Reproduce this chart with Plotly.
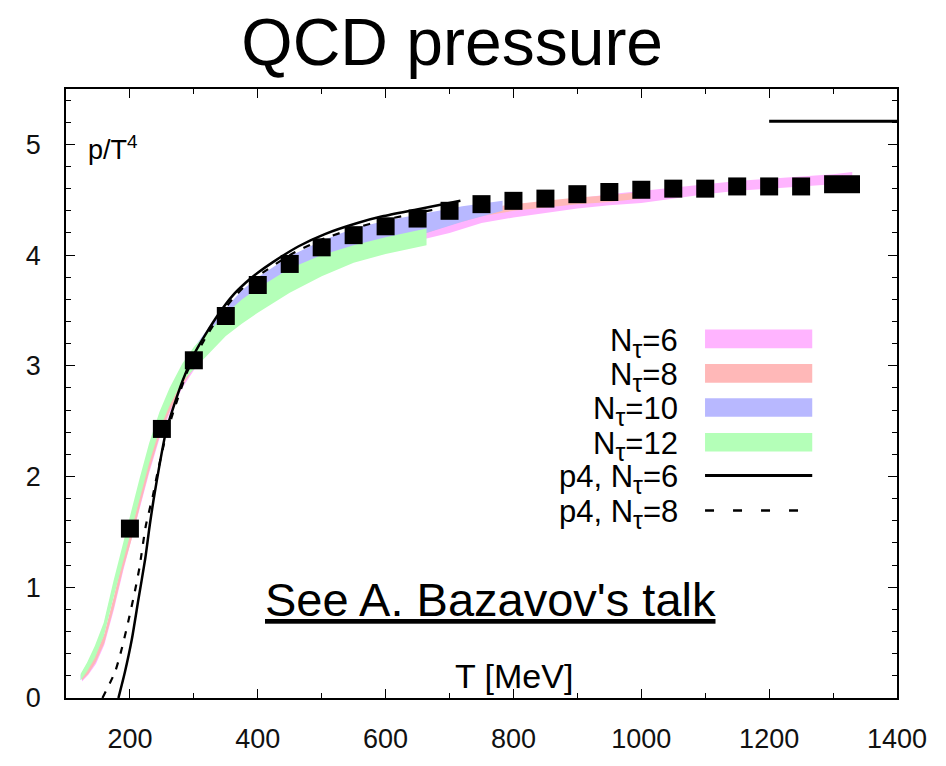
import plotly.graph_objects as go

# ---------------- data ----------------
# lattice data points (black squares)
T_sq = [200, 250, 300, 350, 400, 450, 500, 550, 600, 650, 700, 750, 800, 850, 900,
        950, 1000, 1050, 1100, 1150, 1200, 1250, 1300, 1328]
p_sq = [1.53, 2.43, 3.05, 3.45, 3.73, 3.92, 4.07, 4.18, 4.26, 4.33, 4.40, 4.46, 4.49,
        4.51, 4.55, 4.57, 4.59, 4.60, 4.60, 4.62, 4.62, 4.62, 4.64, 4.64]

# Ntau = 6 band (pink)
T_n6 = [125, 135, 147, 160, 175, 190, 202, 215, 230, 246, 262, 282, 300, 325, 350, 375,
        400, 450, 500, 550, 600, 664, 700, 750, 800, 850, 900, 950, 1000,
        1050, 1100, 1150, 1200, 1250, 1300, 1330]
n6_hi = [0.19, 0.27, 0.38, 0.56, 0.90, 1.26, 1.50, 1.80, 2.13, 2.44, 2.67, 2.90, 3.06, 3.26,
         3.42, 3.55, 3.66, 3.84, 3.97, 4.07, 4.15, 4.26, 4.30, 4.36, 4.41, 4.46, 4.51, 4.55,
         4.58, 4.61, 4.64, 4.67, 4.69, 4.71, 4.73, 4.75]
n6_lo = [0.15, 0.21, 0.31, 0.48, 0.80, 1.16, 1.40, 1.70, 2.03, 2.34, 2.57, 2.80, 2.96, 3.16,
         3.31, 3.43, 3.52, 3.70, 3.83, 3.94, 4.03, 4.15, 4.20, 4.29, 4.34, 4.38, 4.42, 4.45,
         4.47, 4.51, 4.55, 4.58, 4.60, 4.62, 4.64, 4.65]

# Ntau = 8 band (salmon)
T_n8 = [125, 135, 147, 160, 175, 190, 202, 215, 230, 246, 262, 282, 300, 325, 350, 375,
        400, 450, 500, 550, 600, 664, 700, 750, 800, 850, 900, 950, 1000]
n8_hi = [0.20, 0.28, 0.40, 0.58, 0.92, 1.28, 1.52, 1.82, 2.15, 2.46, 2.69, 2.92, 3.08, 3.28,
         3.45, 3.58, 3.70, 3.88, 4.00, 4.10, 4.18, 4.30, 4.36, 4.42, 4.46, 4.49, 4.52, 4.54,
         4.57]
n8_lo = [0.16, 0.22, 0.33, 0.50, 0.82, 1.18, 1.42, 1.72, 2.05, 2.36, 2.59, 2.82, 2.98, 3.18,
         3.34, 3.46, 3.56, 3.74, 3.87, 3.98, 4.07, 4.20, 4.27, 4.35, 4.40, 4.43, 4.46, 4.48,
         4.51]

# Ntau = 10 band (blue)
T_n10 = [123, 133, 145, 159, 174, 190, 202, 215, 230, 246, 262, 282, 300, 325, 350, 375,
         400, 450, 500, 550, 600, 664, 720, 783]
n10_hi = [0.21, 0.31, 0.45, 0.66, 1.02, 1.39, 1.65, 1.95, 2.27, 2.55, 2.78, 3.00, 3.16, 3.36,
          3.52, 3.68, 3.80, 3.99, 4.13, 4.24, 4.31, 4.38, 4.44, 4.49]
n10_lo = [0.16, 0.25, 0.37, 0.57, 0.92, 1.28, 1.52, 1.82, 2.14, 2.44, 2.66, 2.88, 3.04, 3.24,
          3.40, 3.54, 3.64, 3.82, 3.95, 4.05, 4.12, 4.20, 4.30, 4.40]

# Ntau = 12 band (green)
T_n12 = [123, 133, 145, 159, 174, 190, 202, 215, 230, 246, 262, 282, 300, 325, 350, 375,
         400, 450, 500, 550, 600, 664]
n12_hi = [0.22, 0.32, 0.47, 0.68, 1.05, 1.42, 1.68, 1.98, 2.30, 2.58, 2.80, 3.02, 3.17, 3.32,
          3.47, 3.60, 3.70, 3.88, 4.00, 4.09, 4.16, 4.24]
n12_lo = [0.16, 0.24, 0.36, 0.56, 0.90, 1.26, 1.50, 1.80, 2.12, 2.42, 2.64, 2.86, 2.97, 3.12,
          3.27, 3.38, 3.48, 3.66, 3.81, 3.93, 4.01, 4.09]

# p4 action curves
T_p4_6 = [182, 192, 203, 213, 224, 231, 239, 257, 282, 300, 319, 339, 360, 381, 400, 422,
          464, 505, 556, 595, 647, 717]
p_p4_6 = [0.0, 0.23, 0.53, 0.88, 1.26, 1.56, 1.86, 2.42, 2.86, 3.10, 3.29, 3.47, 3.63, 3.75,
          3.84, 3.93, 4.08, 4.19, 4.29, 4.35, 4.41, 4.49]
T_p4_8 = [157, 177, 187, 197, 208, 215, 225, 236, 243, 256, 270, 290, 320, 340, 360, 380,
          400, 450, 500, 550, 600, 650, 700]
p_p4_8 = [0.0, 0.24, 0.44, 0.68, 0.97, 1.18, 1.56, 1.83, 2.03, 2.36, 2.62, 2.95, 3.27, 3.45,
          3.60, 3.72, 3.81, 4.00, 4.14, 4.24, 4.32, 4.38, 4.44]

# Stefan-Boltzmann limit segment
T_sb = [1200, 1400]
p_sb = [5.209, 5.209]

TAU = '<sub><span style="font-size:25px">τ</span></sub>'
band_names = ["N" + TAU + "=6", "N" + TAU + "=8", "N" + TAU + "=10", "N" + TAU + "=12"]
band_colors = ["#ffb4ff", "#ffb8b8", "#b8b8ff", "#b4ffb8"]
line_names = ["p4, N" + TAU + "=6", "p4, N" + TAU + "=8"]

xticks = [200, 400, 600, 800, 1000, 1200, 1400]
yticks = [0, 1, 2, 3, 4, 5]

FONT = "Liberation Sans, Arial, sans-serif"

fig = go.Figure()

bands = [(T_n6, n6_lo, n6_hi), (T_n8, n8_lo, n8_hi), (T_n10, n10_lo, n10_hi),
         (T_n12, n12_lo, n12_hi)]
for (T, lo, hi), col in zip(bands, band_colors):
    fig.add_trace(go.Scatter(
        x=list(T) + list(T)[::-1], y=list(hi) + list(lo)[::-1],
        fill="toself", fillcolor=col, line=dict(width=0, color=col),
        mode="lines", hoverinfo="skip", showlegend=False))

fig.add_trace(go.Scatter(x=T_p4_8, y=p_p4_8, mode="lines",
                         line=dict(color="black", width=2.2, dash="7px,9px", shape="spline",
                                   smoothing=0.6),
                         showlegend=False))
fig.add_trace(go.Scatter(x=T_p4_6, y=p_p4_6, mode="lines",
                         line=dict(color="black", width=2.5, shape="spline", smoothing=0.6),
                         showlegend=False))
fig.add_trace(go.Scatter(x=T_sq, y=p_sq, mode="markers",
                         marker=dict(symbol="square", size=18, color="black"),
                         showlegend=False))
fig.add_trace(go.Scatter(x=T_sb, y=p_sb, mode="lines",
                         line=dict(color="black", width=3), showlegend=False))

# ---------- manual gnuplot-style legend (text left, key right) ----------
leg_y = [0.5896, 0.533, 0.477, 0.420, 0.3654, 0.308]
kx0, kx1 = 0.769, 0.898
for i, name in enumerate(band_names):
    fig.add_annotation(x=0.739, y=leg_y[i] - 0.006, xref="paper", yref="paper", text=name,
                       showarrow=False, xanchor="right", yanchor="middle", height=34,
                       font=dict(family=FONT, size=31, color="black"))
    fig.add_shape(type="rect", xref="paper", yref="paper", x0=kx0, x1=kx1,
                  y0=leg_y[i] - 0.0153, y1=leg_y[i] + 0.0153,
                  fillcolor=band_colors[i], line=dict(width=0))
for j, name in enumerate(line_names):
    yy = leg_y[4 + j]
    fig.add_annotation(x=0.739, y=yy - 0.006, xref="paper", yref="paper", text=name,
                       showarrow=False, xanchor="right", yanchor="middle", height=34,
                       font=dict(family=FONT, size=31, color="black"))
    fig.add_shape(type="line", xref="paper", yref="paper", x0=kx0, x1=kx1, y0=yy, y1=yy,
                  line=dict(color="black", width=3 if j == 0 else 2.5,
                            dash="solid" if j == 0 else "9px,19px"))

# axis titles inside plot
fig.add_annotation(x=0.024, y=0.903, xref="paper", yref="paper", text="p/T<sup>4</sup>",
                   showarrow=False, xanchor="left", yanchor="middle",
                   font=dict(family=FONT, size=27, color="black"))
fig.add_annotation(x=0.539, y=0.036, xref="paper", yref="paper", text="T [MeV]",
                   showarrow=False, xanchor="center", yanchor="middle",
                   font=dict(family=FONT, size=34, color="black"))
fig.add_annotation(x=0.237, y=0.162, xref="paper", yref="paper",
                   text="<u>See A. Bazavov's talk</u>",
                   showarrow=False, xanchor="left", yanchor="middle",
                   font=dict(family=FONT, size=47, color="black"))

axis_common = dict(showline=True, linecolor="black", linewidth=1.8, mirror="allticks",
                   ticks="inside", ticklen=9, tickwidth=1.3, tickcolor="black",
                   showgrid=False, zeroline=False,
                   tickfont=dict(family=FONT, size=27, color="#111"))
fig.update_xaxes(range=[100, 1400], tickvals=xticks, ticklabelstandoff=16,
                 minor=dict(ticks="inside", dtick=100, tick0=0, ticklen=5, tickwidth=1.2,
                            tickcolor="black", showgrid=False),
                 **axis_common)
fig.update_yaxes(range=[0, 5.5], tickvals=yticks, ticklabelstandoff=18,
                 minor=dict(ticks="inside", dtick=0.2, tick0=0, ticklen=5, tickwidth=1.2,
                            tickcolor="black", showgrid=False),
                 **axis_common)

fig.update_layout(
    width=946, height=766,
    margin=dict(l=66, r=49, t=89, b=54),
    paper_bgcolor="white", plot_bgcolor="white",
    title=dict(text="QCD pressure", x=0.478, xref="container", xanchor="center",
               y=0.945, yref="container", yanchor="middle",
               font=dict(family=FONT, size=66, color="black")),
    showlegend=False,
)

fig.write_html("out.html")
